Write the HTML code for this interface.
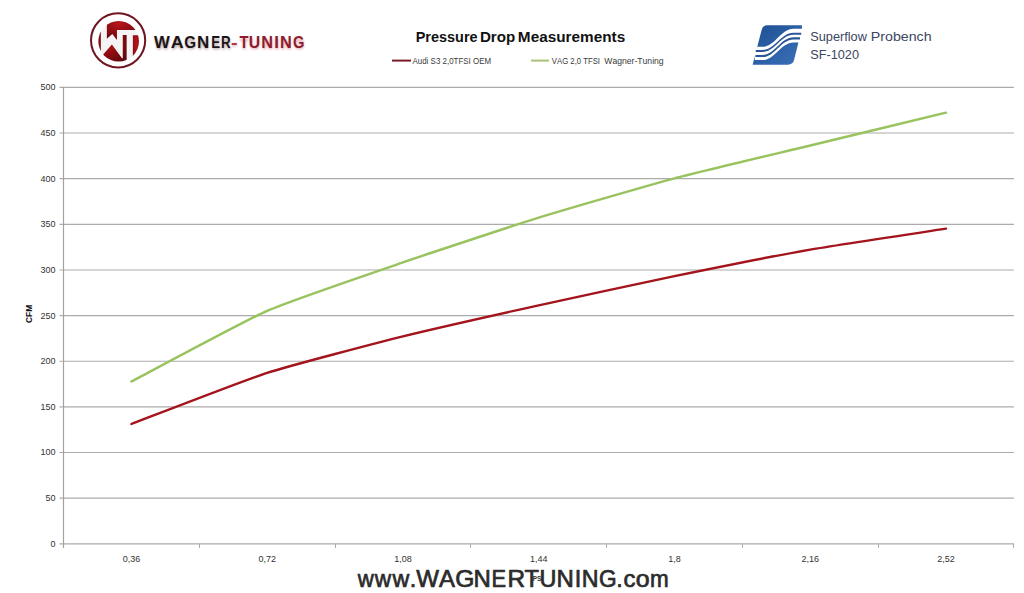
<!DOCTYPE html>
<html><head><meta charset="utf-8"><style>
html,body{margin:0;padding:0;background:#fff;}
svg{display:block;font-family:"Liberation Sans", sans-serif;}
</style></head><body>
<svg width="1024" height="593" viewBox="0 0 1024 593">
<rect width="1024" height="593" fill="#fff"/>
<line x1="59.5" y1="543.80" x2="1013.9" y2="543.80" stroke="#ababab" stroke-width="1.15"/>
<text x="55.5" y="546.7" text-anchor="end" font-size="9" fill="#333">0</text>
<line x1="59.5" y1="498.16" x2="1013.9" y2="498.16" stroke="#ababab" stroke-width="1.15"/>
<text x="55.5" y="501.1" text-anchor="end" font-size="9" fill="#333">50</text>
<line x1="59.5" y1="452.52" x2="1013.9" y2="452.52" stroke="#ababab" stroke-width="1.15"/>
<text x="55.5" y="455.4" text-anchor="end" font-size="9" fill="#333">100</text>
<line x1="59.5" y1="406.88" x2="1013.9" y2="406.88" stroke="#ababab" stroke-width="1.15"/>
<text x="55.5" y="409.8" text-anchor="end" font-size="9" fill="#333">150</text>
<line x1="59.5" y1="361.24" x2="1013.9" y2="361.24" stroke="#ababab" stroke-width="1.15"/>
<text x="55.5" y="364.1" text-anchor="end" font-size="9" fill="#333">200</text>
<line x1="59.5" y1="315.60" x2="1013.9" y2="315.60" stroke="#ababab" stroke-width="1.15"/>
<text x="55.5" y="318.5" text-anchor="end" font-size="9" fill="#333">250</text>
<line x1="59.5" y1="269.96" x2="1013.9" y2="269.96" stroke="#ababab" stroke-width="1.15"/>
<text x="55.5" y="272.9" text-anchor="end" font-size="9" fill="#333">300</text>
<line x1="59.5" y1="224.32" x2="1013.9" y2="224.32" stroke="#ababab" stroke-width="1.15"/>
<text x="55.5" y="227.2" text-anchor="end" font-size="9" fill="#333">350</text>
<line x1="59.5" y1="178.68" x2="1013.9" y2="178.68" stroke="#ababab" stroke-width="1.15"/>
<text x="55.5" y="181.6" text-anchor="end" font-size="9" fill="#333">400</text>
<line x1="59.5" y1="133.04" x2="1013.9" y2="133.04" stroke="#ababab" stroke-width="1.15"/>
<text x="55.5" y="135.9" text-anchor="end" font-size="9" fill="#333">450</text>
<line x1="59.5" y1="87.40" x2="1013.9" y2="87.40" stroke="#ababab" stroke-width="1.15"/>
<text x="55.5" y="90.3" text-anchor="end" font-size="9" fill="#333">500</text>
<line x1="63.5" y1="87" x2="63.5" y2="548" stroke="#a2a2a2" stroke-width="1.2"/>
<line x1="199.5" y1="543.8" x2="199.5" y2="548" stroke="#ababab" stroke-width="1"/>
<line x1="335.5" y1="543.8" x2="335.5" y2="548" stroke="#ababab" stroke-width="1"/>
<line x1="470.5" y1="543.8" x2="470.5" y2="548" stroke="#ababab" stroke-width="1"/>
<line x1="606.5" y1="543.8" x2="606.5" y2="548" stroke="#ababab" stroke-width="1"/>
<line x1="742.5" y1="543.8" x2="742.5" y2="548" stroke="#ababab" stroke-width="1"/>
<line x1="878.5" y1="543.8" x2="878.5" y2="548" stroke="#ababab" stroke-width="1"/>
<line x1="1013.5" y1="543.8" x2="1013.5" y2="548" stroke="#ababab" stroke-width="1"/>
<text x="131.4" y="562" text-anchor="middle" font-size="9" fill="#333">0,36</text>
<text x="267.2" y="562" text-anchor="middle" font-size="9" fill="#333">0,72</text>
<text x="402.9" y="562" text-anchor="middle" font-size="9" fill="#333">1,08</text>
<text x="538.7" y="562" text-anchor="middle" font-size="9" fill="#333">1,44</text>
<text x="674.5" y="562" text-anchor="middle" font-size="9" fill="#333">1,8</text>
<text x="810.2" y="562" text-anchor="middle" font-size="9" fill="#333">2,16</text>
<text x="946.0" y="562" text-anchor="middle" font-size="9" fill="#333">2,52</text>
<path d="M131.39,381.54 C142.70,375.65 244.53,320.71 267.16,310.79 C289.79,300.86 380.30,270.16 402.93,262.40 C425.56,254.64 516.07,224.66 538.70,217.66 C561.33,210.66 651.84,184.41 674.47,178.40 C697.10,172.39 787.61,151.01 810.24,145.53 C832.87,140.05 934.70,115.40 946.01,112.66" fill="none" stroke="#98c35e" stroke-width="2.4" stroke-linecap="round"/>
<path d="M131.39,424.00 C142.70,419.74 244.53,380.17 267.16,372.87 C289.79,365.57 380.30,341.98 402.93,336.35 C425.56,330.72 516.07,310.33 538.70,305.31 C561.33,300.29 651.84,280.73 674.47,276.09 C697.10,271.45 787.61,253.57 810.24,249.61 C832.87,245.66 934.70,230.36 946.01,228.62" fill="none" stroke="#a3141c" stroke-width="2.4" stroke-linecap="round"/>
<g transform="translate(31.8,322.7) rotate(-90)"><text transform="translate(-0.34,0.00) scale(0.9802,1)" font-size="8.58" font-weight="bold" fill="#111" style="font-kerning:none" >CFM</text></g>
<text transform="translate(532.77,580.60) scale(0.8040,1)" font-size="7.99" font-weight="bold" fill="#333" style="font-kerning:none" >PSI</text>
<text transform="translate(415.73,41.80) scale(1.0042,1)" font-size="14.39" font-weight="bold" fill="#111" style="font-kerning:none" >Pressure</text>
<text transform="translate(479.88,41.80) scale(1.0556,1)" font-size="14.39" font-weight="bold" fill="#111" style="font-kerning:none" >Drop</text>
<text transform="translate(517.87,41.80) scale(1.0653,1)" font-size="14.39" font-weight="bold" fill="#111" style="font-kerning:none" >Measurements</text>
<line x1="392" y1="60.6" x2="411" y2="60.6" stroke="#7e1a28" stroke-width="2"/>
<text transform="translate(412.48,63.60) scale(0.9273,1)" font-size="8.58" font-weight="normal" fill="#3a3a3a" style="font-kerning:none" >Audi S3 2,0TFSI OEM</text>
<line x1="531" y1="60.6" x2="549" y2="60.6" stroke="#a9c27a" stroke-width="2"/>
<text transform="translate(551.87,63.60) scale(0.9039,1)" font-size="8.58" font-weight="normal" fill="#3a3a3a" style="font-kerning:none" >VAG 2,0 TFSI</text>
<text transform="translate(604.26,63.60) scale(1.0049,1)" font-size="8.58" font-weight="normal" fill="#3a3a3a" style="font-kerning:none" >Wagner-Tuning</text>
<defs><filter id="blur1" x="-20%" y="-50%" width="140%" height="200%"><feGaussianBlur stdDeviation="1.1"/></filter></defs>
<g filter="url(#blur1)" opacity="0.9"><text transform="translate(155.10,48.80) scale(1.0234,1)" font-size="15.12" font-weight="bold" fill="#c2b2b6" stroke="#c2b2b6" stroke-width="1.2" stroke-linejoin="round" style="font-kerning:none" >W</text><text transform="translate(171.84,48.80) scale(1.0580,1)" font-size="15.12" font-weight="bold" fill="#c2b2b6" stroke="#c2b2b6" stroke-width="1.2" stroke-linejoin="round" style="font-kerning:none" >A</text><text transform="translate(185.28,48.80) scale(0.9035,1)" font-size="15.12" font-weight="bold" fill="#c2b2b6" stroke="#c2b2b6" stroke-width="1.2" stroke-linejoin="round" style="font-kerning:none" >G</text><text transform="translate(198.09,48.80) scale(0.9914,1)" font-size="15.12" font-weight="bold" fill="#c2b2b6" stroke="#c2b2b6" stroke-width="1.2" stroke-linejoin="round" style="font-kerning:none" >N</text><text transform="translate(212.28,48.80) scale(0.7747,1)" font-size="15.12" font-weight="bold" fill="#c2b2b6" stroke="#c2b2b6" stroke-width="1.2" stroke-linejoin="round" style="font-kerning:none" >E</text><text transform="translate(221.88,48.80) scale(0.7874,1)" font-size="15.12" font-weight="bold" fill="#c2b2b6" stroke="#c2b2b6" stroke-width="1.2" stroke-linejoin="round" style="font-kerning:none" >R</text><text transform="translate(232.11,48.80) scale(0.9924,1)" font-size="15.12" font-weight="bold" fill="#eab4bc" stroke="#eab4bc" stroke-width="1.2" stroke-linejoin="round" style="font-kerning:none" >-</text><text transform="translate(240.37,48.80) scale(0.8612,1)" font-size="15.12" font-weight="bold" fill="#eab4bc" stroke="#eab4bc" stroke-width="1.2" stroke-linejoin="round" style="font-kerning:none" >T</text><text transform="translate(249.72,48.80) scale(0.9236,1)" font-size="15.12" font-weight="bold" fill="#eab4bc" stroke="#eab4bc" stroke-width="1.2" stroke-linejoin="round" style="font-kerning:none" >U</text><text transform="translate(262.41,48.80) scale(0.9517,1)" font-size="15.12" font-weight="bold" fill="#eab4bc" stroke="#eab4bc" stroke-width="1.2" stroke-linejoin="round" style="font-kerning:none" >N</text><text transform="translate(274.85,48.80) scale(1.0000,1)" font-size="15.12" font-weight="bold" fill="#eab4bc" stroke="#eab4bc" stroke-width="1.2" stroke-linejoin="round" style="font-kerning:none" >I</text><text transform="translate(281.11,48.80) scale(0.9517,1)" font-size="15.12" font-weight="bold" fill="#eab4bc" stroke="#eab4bc" stroke-width="1.2" stroke-linejoin="round" style="font-kerning:none" >N</text><text transform="translate(293.98,48.80) scale(0.8684,1)" font-size="15.12" font-weight="bold" fill="#eab4bc" stroke="#eab4bc" stroke-width="1.2" stroke-linejoin="round" style="font-kerning:none" >G</text></g>
<text transform="translate(154.08,47.50) scale(0.9949,1)" font-size="16.86" font-weight="bold" fill="#1c1416" style="font-kerning:none" >W</text><text transform="translate(170.75,47.50) scale(1.0608,1)" font-size="16.86" font-weight="bold" fill="#1c1416" style="font-kerning:none" >A</text><text transform="translate(184.27,47.50) scale(0.9053,1)" font-size="16.86" font-weight="bold" fill="#1c1416" style="font-kerning:none" >G</text><text transform="translate(196.96,47.50) scale(1.0088,1)" font-size="16.86" font-weight="bold" fill="#1c1416" style="font-kerning:none" >N</text><text transform="translate(211.31,47.50) scale(0.7929,1)" font-size="16.86" font-weight="bold" fill="#1c1416" style="font-kerning:none" >E</text><text transform="translate(220.90,47.50) scale(0.7942,1)" font-size="16.86" font-weight="bold" fill="#1c1416" style="font-kerning:none" >R</text><text transform="translate(230.93,47.50) scale(1.1679,1)" font-size="16.86" font-weight="bold" fill="#b03848" style="font-kerning:none" >-</text><text transform="translate(239.43,47.50) scale(0.8762,1)" font-size="16.86" font-weight="bold" fill="#8e1c2c" style="font-kerning:none" >T</text><text transform="translate(248.65,47.50) scale(0.9374,1)" font-size="16.86" font-weight="bold" fill="#8e1c2c" style="font-kerning:none" >U</text><text transform="translate(261.31,47.50) scale(0.9685,1)" font-size="16.86" font-weight="bold" fill="#8e1c2c" style="font-kerning:none" >N</text><text transform="translate(274.21,47.50) scale(1.0000,1)" font-size="16.86" font-weight="bold" fill="#8e1c2c" style="font-kerning:none" >I</text><text transform="translate(280.01,47.50) scale(0.9685,1)" font-size="16.86" font-weight="bold" fill="#8e1c2c" style="font-kerning:none" >N</text><text transform="translate(293.00,47.50) scale(0.8701,1)" font-size="16.86" font-weight="bold" fill="#8e1c2c" style="font-kerning:none" >G</text>
<defs><clipPath id="wtc"><circle cx="292" cy="300" r="262"/></clipPath><radialGradient id="wtg" cx="0.35" cy="0.25" r="0.8"><stop offset="0" stop-color="#b8161a"/><stop offset="0.55" stop-color="#8a0c12"/><stop offset="1" stop-color="#5e080c"/></radialGradient></defs>
<circle cx="118.1" cy="40.35" r="27.1" fill="#fff" stroke="#6e1620" stroke-width="2"/>
<g transform="translate(96,18) scale(0.07758)"><g clip-path="url(#wtc)">
<rect x="0" y="0" width="600" height="600" fill="#f4f4f4"/>
<rect x="0" y="0" width="62" height="600" fill="url(#wtg)"/>
<polygon points="140,0 600,0 600,155 270,155 270,282 210,205 140,268" fill="url(#wtg)"/>
<polygon points="92,472 205,340 335,520 345,520 345,220 395,220 395,600 0,600" fill="url(#wtg)"/>
<rect x="475" y="222" width="130" height="400" fill="url(#wtg)"/>
</g></g>
<text transform="translate(810.22,41.20) scale(0.9648,1)" font-size="13.23" font-weight="normal" fill="#3b4660" style="font-kerning:none" >Superflow</text>
<text transform="translate(870.84,41.20) scale(1.0736,1)" font-size="13.23" font-weight="normal" fill="#3b4660" style="font-kerning:none" >Probench</text>
<text transform="translate(810.22,59.20) scale(0.9614,1)" font-size="13.23" font-weight="normal" fill="#3b4660" style="font-kerning:none" >SF-1020</text>
<g transform="translate(748,20) scale(0.08425)">
<defs><linearGradient id="sfg" x1="0" y1="0" x2="1" y2="1"><stop offset="0" stop-color="#1f4f94"/><stop offset="1" stop-color="#3a70b8"/></linearGradient></defs>
<path d="M225 62 L640 62 L640 104 L548 470 Q535 530 475 530 L55 530 L160 125 Q175 62 225 62 Z" fill="url(#sfg)"/>
<path d="M80 318 L170 318 C320 318 390 103 540 103 L660 103 L660 266 L540 266 C390 266 320 476 170 476 L80 476 Z" fill="#fff"/>
<path d="M92 355 L170 355 C320 355 390 150 540 150 L632 150 L632 175 L540 175 C390 175 320 380 170 380 L92 380 Z" fill="#2a5596"/>
<path d="M88 415 L170 415 C320 415 390 205 540 205 L617 205 L617 230 L540 230 C390 230 320 440 170 440 L88 440 Z" fill="#2a5596"/>
</g>
<text transform="translate(357.66,586.50) scale(0.9496,1)" font-size="23.40" font-weight="normal" fill="#2b2b2b" stroke="#2b2b2b" stroke-width="0.7" stroke-linejoin="round" style="font-kerning:none" >w</text><text transform="translate(374.87,586.50) scale(0.9722,1)" font-size="23.40" font-weight="normal" fill="#2b2b2b" stroke="#2b2b2b" stroke-width="0.7" stroke-linejoin="round" style="font-kerning:none" >w</text><text transform="translate(392.48,586.50) scale(0.9948,1)" font-size="23.40" font-weight="normal" fill="#2b2b2b" stroke="#2b2b2b" stroke-width="0.7" stroke-linejoin="round" style="font-kerning:none" >w</text><text transform="translate(409.75,586.50) scale(1.0000,1)" font-size="23.40" font-weight="normal" fill="#2b2b2b" stroke="#2b2b2b" stroke-width="0.7" stroke-linejoin="round" style="font-kerning:none" >.</text><text transform="translate(416.25,586.50) scale(1.0308,1)" font-size="23.40" font-weight="normal" fill="#2b2b2b" stroke="#2b2b2b" stroke-width="0.7" stroke-linejoin="round" style="font-kerning:none" >W</text><text transform="translate(439.01,586.50) scale(1.0236,1)" font-size="23.40" font-weight="normal" fill="#2b2b2b" stroke="#2b2b2b" stroke-width="0.7" stroke-linejoin="round" style="font-kerning:none" >A</text><text transform="translate(455.23,586.50) scale(1.0515,1)" font-size="23.40" font-weight="normal" fill="#2b2b2b" stroke="#2b2b2b" stroke-width="0.7" stroke-linejoin="round" style="font-kerning:none" >G</text><text transform="translate(473.49,586.50) scale(1.0238,1)" font-size="23.40" font-weight="normal" fill="#2b2b2b" stroke="#2b2b2b" stroke-width="0.7" stroke-linejoin="round" style="font-kerning:none" >N</text><text transform="translate(491.53,586.50) scale(0.9340,1)" font-size="23.40" font-weight="normal" fill="#2b2b2b" stroke="#2b2b2b" stroke-width="0.7" stroke-linejoin="round" style="font-kerning:none" >E</text><text transform="translate(507.47,586.50) scale(1.0415,1)" font-size="23.40" font-weight="normal" fill="#2b2b2b" stroke="#2b2b2b" stroke-width="0.7" stroke-linejoin="round" style="font-kerning:none" >R</text><text transform="translate(524.52,586.50) scale(1.0121,1)" font-size="23.40" font-weight="normal" fill="#2b2b2b" stroke="#2b2b2b" stroke-width="0.7" stroke-linejoin="round" style="font-kerning:none" >T</text><text transform="translate(539.44,586.50) scale(1.0008,1)" font-size="23.40" font-weight="normal" fill="#2b2b2b" stroke="#2b2b2b" stroke-width="0.7" stroke-linejoin="round" style="font-kerning:none" >U</text><text transform="translate(556.39,586.50) scale(1.0238,1)" font-size="23.40" font-weight="normal" fill="#2b2b2b" stroke="#2b2b2b" stroke-width="0.7" stroke-linejoin="round" style="font-kerning:none" >N</text><text transform="translate(574.70,586.50) scale(1.0000,1)" font-size="23.40" font-weight="normal" fill="#2b2b2b" stroke="#2b2b2b" stroke-width="0.7" stroke-linejoin="round" style="font-kerning:none" >I</text><text transform="translate(581.84,586.50) scale(0.9948,1)" font-size="23.40" font-weight="normal" fill="#2b2b2b" stroke="#2b2b2b" stroke-width="0.7" stroke-linejoin="round" style="font-kerning:none" >N</text><text transform="translate(598.90,586.50) scale(0.9701,1)" font-size="23.40" font-weight="normal" fill="#2b2b2b" stroke="#2b2b2b" stroke-width="0.7" stroke-linejoin="round" style="font-kerning:none" >G</text><text transform="translate(616.30,586.50) scale(1.0000,1)" font-size="23.40" font-weight="normal" fill="#2b2b2b" stroke="#2b2b2b" stroke-width="0.7" stroke-linejoin="round" style="font-kerning:none" >.</text><text transform="translate(623.54,586.50) scale(1.0195,1)" font-size="23.40" font-weight="normal" fill="#2b2b2b" stroke="#2b2b2b" stroke-width="0.7" stroke-linejoin="round" style="font-kerning:none" >c</text><text transform="translate(635.63,586.50) scale(1.0639,1)" font-size="23.40" font-weight="normal" fill="#2b2b2b" stroke="#2b2b2b" stroke-width="0.7" stroke-linejoin="round" style="font-kerning:none" >o</text><text transform="translate(650.05,586.50) scale(0.9592,1)" font-size="23.40" font-weight="normal" fill="#2b2b2b" stroke="#2b2b2b" stroke-width="0.7" stroke-linejoin="round" style="font-kerning:none" >m</text>
</svg>
</body></html>
